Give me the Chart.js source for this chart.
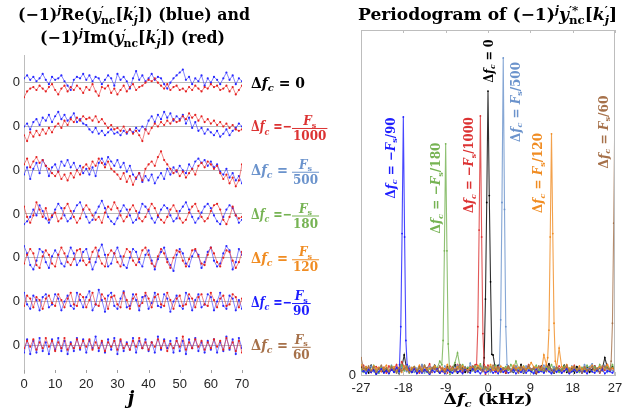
<!DOCTYPE html>
<html>
<head>
<meta charset="utf-8">
<script src="https://cdn.jsdelivr.net/npm/chart.js@4.4.1/dist/chart.umd.min.js"></script>
<style>
  html, body { margin: 0; padding: 0; background: #fff; }
  #wrap { position: relative; width: 632px; height: 410px; overflow: hidden; }
  canvas { position: absolute; top: 0; }
  #left { left: 0; }
  #right { left: 316px; }
</style>
</head>
<body>
<div id="wrap">
  <canvas id="left" width="340" height="410"></canvas>
  <canvas id="right" width="316" height="410"></canvas>
</div>
<script>
// ---- time-domain rows (tenths of a row unit), top row first ----
// Δfc = 0
const re1 = [3,5,2,4,1,3,6,2,-1,4, 2,3,5,1,-2,-5,2,4,3,6, 2,5,1,4,3,-1,2,5,3,-2, 6,2,4,1,-4,3,8,2,5,1,
             3,6,2,4,3,-1,-4,0,3,5, 7,9,2,4,-1,3,1,5,-2,3, 0,4,2,-1,3,7,2,5,-1,3, 1];
const im1 = [-10,-6,-4,-3,-5,-2,-4,-6,-3,-1, -5,-8,-4,-2,-6,-3,-5,-2,-4,-7, -3,-5,-1,-6,-9,-3,-4,-2,-7,-4,
             -8,-5,-2,-6,-3,-1,-5,-3,-2,0, 2,1,3,0,-2,-4,-1,-5,-3,-2, -5,-4,-6,-3,-5,-2,-4,-6,-3,-4,
             -1,-3,-2,-5,-4,-2,-6,-3,-8,-5, -2];
// Δfc = -Fs/1000
const re2 = [0,2,-2,3,5,1,6,4,8,3, 7,10,5,8,4,6,9,3,5,2, 1,-2,-4,-1,-5,-3,-6,-4,-2,-5, -4,-6,-3,-5,-2,-4,-1,-3,0,-2,
             4,7,3,8,5,10,6,9,4,7, 5,8,2,6,-1,3,-3,-1,-5,-2, -4,-6,-3,-7,-5,-2,-6,-3,-1,2, 0];
const im2 = [-6,-10,-4,-7,-3,-6,-2,-5,-1,-4, 0,2,-1,4,1,5,3,6,4,7, 5,6,4,7,3,5,2,-1,1,-2, -1,-3,0,-4,-2,-5,-3,-6,-10,-2,
             -5,-1,2,0,3,1,4,2,5,3, 4,7,5,9,6,8,4,7,3,5, 2,4,1,3,0,2,-1,1,-2,-3, -2];
// Δfc = Fs/500
const re3 = [-3,2,-6,1,5,-2,7,3,-4,2, 4,-1,6,3,7,2,5,0,3,-2, 1,-3,2,-4,5,8,4,9,6,3, 7,2,5,-1,3,-3,-6,-2,-8,-4,
             -7,-3,-9,-5,-2,-6,1,-3,2,-1, 3,0,-2,4,1,6,8,5,7,3, 6,2,4,-1,-3,1,-5,-2,-7,-4, -9];
const im3 = [4,8,2,6,9,5,7,3,1,-2, -4,-1,-6,-3,-7,-2,-5,0,-3,2, 4,1,6,3,8,5,2,6,1,-1, -3,-6,-2,-8,-4,-10,-5,-2,-7,1,
             4,6,3,9,13,7,4,1,-2,0, -4,-1,-5,-2,1,-3,3,5,2,6, 4,1,3,-2,-6,-3,-9,-5,-11,-7, 4];
// Δfc = -Fs/180
const re4 = [-7,-5,-2,3,-1,6,2,-3,-6,-2, 3,7,4,-1,-5,-3,2,6,8,3, -2,-6,-4,1,5,9,4,-2,-5,-7, -3,2,6,3,-1,-6,-4,1,7,5,
             2,-3,-6,-2,3,6,4,-1,-5,-3, 2,5,8,3,-2,-6,-3,1,5,7, 4,-1,-5,-7,-2,3,6,4,-1,-6, -4];
const im4 = [5,-2,-6,-1,8,3,-2,4,-4,-1, 1,-5,-3,4,7,2,-2,-6,-3,3, 6,3,-1,-4,-2,-6,1,5,3,8, 4,-1,-5,-2,3,6,2,-3,-5,-2,
             3,7,4,-1,-4,-6,-2,3,6,2, -3,-6,-4,1,5,7,2,-2,-5,-3, 2,6,7,3,-4,-7,-2,5,-1,-3, -2];
// Δfc = Fs/120
const re5 = [8,3,-5,-8,-2,6,4,-3,-7,1, 5,2,-4,-6,1,7,3,-5,-2,4, 6,-1,-8,-3,5,9,2,-6,-4,3, 7,1,-5,-7,0,6,4,-3,-6,2,
             5,-2,-8,-1,4,7,-1,-5,-9,2, 6,3,-4,-6,1,5,2,-7,-3,4, 7,-2,-6,-4,3,8,5,-8,-3,6, 2];
const im5 = [-4,2,6,3,-5,-7,1,5,2,-4, -6,2,7,3,-3,-5,-1,5,6,-2, -5,-3,4,7,1,-4,-6,2,5,3, -3,-6,1,6,4,-2,-5,-1,5,7,
             2,-4,-6,1,6,3,-3,-7,0,5, 4,-2,-6,-1,5,6,1,-4,-5,2, 7,3,-3,-6,0,5,4,-2,-7,-3, 4];
// Δfc = -Fs/90
const re6 = [6,-2,-5,4,1,-6,3,5,-4,-2, 5,2,-6,0,4,-3,-5,6,1,-4, 3,7,-6,-2,8,1,-7,4,6,-3, -5,2,7,-4,-3,5,1,-6,3,4,
             -5,-1,6,-3,-4,5,2,-7,0,4, -3,-5,6,2,-6,1,5,-4,-2,5, 3,-6,0,6,-3,-5,4,2,-6,1, -5];
const im6 = [-3,4,2,-4,3,1,-5,2,4,-1, -3,5,1,-4,2,6,-2,-3,5,3, -4,1,6,-2,-3,5,2,-5,3,4, -2,-4,6,1,-5,2,5,-3,-1,6,
             2,-4,3,5,-2,-3,6,1,-5,2, 4,-3,-2,5,2,-4,3,5,-2,-3, 6,1,-4,2,4,-3,-2,5,3,-4, 2];
// Δfc = Fs/60
const re7 = [-5,4,-6,3,-5,5,-4,2,-6,4, -3,5,-4,3,-6,2,-4,5,-3,4, -5,3,-2,6,-4,2,-5,4,-3,5, -6,3,-4,2,-3,5,-5,3,-2,4,
             -4,2,-5,6,-3,4,-2,3,-5,5, -4,3,-6,4,-2,5,-4,2,-5,3, -3,4,-5,2,-4,6,-3,4,-6,5, -2];
const im7 = [-2,3,-1,4,-3,2,-2,5,-1,3, -4,2,-2,5,-3,1,-2,4,-2,3, -1,4,-3,2,-2,3,-4,2,-1,3, -3,4,-2,1,-3,3,-1,5,-2,2,
             -3,2,-1,4,-2,3,-4,1,-2,3, -1,6,-3,2,-2,4,-1,3,-3,2, -2,4,-1,3,-3,5,-2,2,-4,3, -5];

// ---- periodogram: noise floor on the bin grid (units of 0.002), peak samples and centres (kHz) ----
const noiseDf0 = [12,5,9,3,14,7,2,10,6,4, 8,3,11,5,9,2,10,29,8,6, 4,9,3,12,7,5,10,2,8,14, 6,3,9,5,12,4,8,15,3,7,
                  10,4,9,6,12,9,11,8,8,15, 0,10,29,6,14,5,9,3,12,7, 4,10,6,15,3,8,12,5,9,2, 7,13,4,9,16,6,3,11,5,8,
                  14,4,7,10,3,12,6,9,5,11, 4,8,13,6,10,9,25,11,7,12, 5];
const noiseDfM1000 = [8,14,6,10,4,12,12,9,5,11, 3,13,7,9,15,4,19,12,6,10, 5,11,8,3,14,6,9,16,4,10, 7,12,5,9,3,13,8,6,15,10,
                  4,11,7,12,9,15,12,0,0,0, 14,6,10,4,12,7,9,3,11,6, 8,13,5,10,4,9,15,6,11,3, 7,12,5,14,8,4,10,6,13,9,
                  5,11,3,8,14,6,10,4,12,7, 9,5,13,8,3,11,7,15,6,10, 4];
const noiseDf500 = [6,11,4,9,13,5,8,3,12,7, 10,4,14,6,9,3,11,7,5,13, 8,4,10,6,15,3,9,12,5,8, 11,4,7,13,6,9,3,10,14,5,
                  8,12,4,17,7,10,5,13,6,9, 11,4,8,14,6,0,0,0,12,9, 5,12,7,10,4,13,6,9,3,11, 8,5,14,7,10,4,12,6,9,3,
                  11,7,5,13,8,4,10,6,15,9, 12,16,8,5,11,7,14,4,9,6, 10];
const noiseDfM180 = [9,4,12,7,5,14,8,3,11,6, 10,5,13,7,4,9,15,6,11,3, 8,12,5,10,6,14,4,9,7,13, 10,20,12,0,0,0,9,18,32,11,
                  15,8,11,10,6,13,9,16,7,11, 5,12,8,14,6,10,9,12,7,15, 9,20,10,6,13,8,11,4,9,14, 6,10,5,12,8,15,7,11,4,9,
                  13,6,10,5,12,8,4,11,7,14, 9,5,12,8,15,6,10,12,8,15, 6];
const noiseDf120 = [15,7,12,9,4,13,8,11,6,10, 14,5,9,12,7,10,4,13,8,6, 11,9,5,14,7,12,8,10,6,13, 9,4,11,7,15,6,10,8,12,5,
                  13,9,7,11,10,8,14,10,6,12, 9,15,7,11,5,13,10,8,12,6, 14,9,11,7,12,8,10,18,12,10, 12,6,29,15,0,0,0,10,39,12,
                  9,15,7,12,10,6,13,8,11,5, 10,14,7,9,12,6,11,15,8,10, 5];
const noiseDfM90 = [3,6,2,8,4,7,1,5,9,3, 6,2,8,4,11,5,0,0,0,7, 4,9,2,6,3,8,5,1,7,4, 9,3,6,2,8,5,3,7,4,6,
                  2,8,5,3,9,4,6,2,7,3, 5,8,3,6,2,9,4,7,3,5, 8,2,6,4,9,3,7,5,2,8, 4,6,3,9,5,2,7,4,8,3,
                  6,9,2,5,8,4,7,3,6,2, 9,5,3,7,4,8,2,6,5,3, 7];
const noiseDf60 = [25,10,8,13,6,11,4,9,14,7, 10,5,12,8,3,11,6,9,13,4, 8,12,6,10,5,14,7,3,11,9, 6,13,8,4,10,7,12,5,9,15,
                  7,11,4,9,13,6,10,8,5,12, 9,6,14,7,11,4,10,8,13,5, 11,7,3,12,9,6,14,8,10,4, 13,7,10,5,12,8,4,11,9,6,
                  10,14,5,8,12,6,9,3,11,7, 8,12,6,10,4,13,12,9,8,0, 0];

const peakDf0     = [0.05, 0.22, 0.50, 0.823, 0.52, 0.27, 0.06];
const peakDfM1000 = [0.03, 0.14, 0.42, 0.751, 0.40, 0.12, 0.03];
const peakDf500   = [0.03, 0.16, 0.50, 0.919, 0.48, 0.14, 0.03];
const peakDfM180  = [0.03, 0.10, 0.36, 0.670, 0.36, 0.09, 0.02];
const peakDf120   = [0.05, 0.13, 0.40, 0.699, 0.41, 0.15, 0.04];
const peakDfM90   = [0.03, 0.14, 0.41, 0.748, 0.40, 0.10, 0.03];
const peakDf60    = [0.04, 0.15, 0.44, 0.810, 0.44, 0.15, 0.04];
const peakOffsets = [-0.81, -0.54, -0.27, 0, 0.27, 0.54, 0.81];   // kHz around each centre
const peakCenters = [0, -1.62, 3.24, -9, 13.5, -18, 27];           // kHz
const xTicksKHz = [-27, -18, -9, 0, 9, 18, 27];

// row captions: sign and denominator of Fs
const rowSigns = ['', '−', '', '−', '', '−', ''];
const rowDens = ['', '1000', '500', '180', '120', '90', '60'];

// ---- styling / layout ----
const rowColors = ['#000000', '#dc3232', '#6b93cc', '#76b353', '#f08c22', '#1e1eff', '#a6714a'];
const SERIF = '"DejaVu Serif", "Liberation Serif", serif';
const TICK_FONT = { family: '"Liberation Sans", Arial, sans-serif', size: 13 };
const TICK_COLOR = '#262626';
const AXIS_GRAY = '#bdbdbd';
const ROW_STEP = 3;
const VALUE_SCALE = 0.1;
const NOISE_UNIT = 0.002;
const FREQ_STEP = 0.54;

function fontOf(kind, size) {
  const small = kind.startsWith('sub') || kind.startsWith('sup');
  const s = small ? Math.round(size * 0.68) : size;
  const it = kind === 'i' || kind === 'supi' || kind === 'subi';
  return (it ? 'italic ' : '') + 'bold ' + s + 'px ' + SERIF;
}

function partWidth(ctx, t, k, size) {
  if (k === 'stack') {
    ctx.font = fontOf('sup', size); const a = ctx.measureText(t[0]).width;
    ctx.font = fontOf(t[2] ? 'subi' : 'sub', size); const b = ctx.measureText(t[1]).width;
    return Math.max(a, b);
  }
  ctx.font = fontOf(k, size);
  return ctx.measureText(t).width;
}

function richWidth(ctx, parts, size) {
  return parts.reduce((w, [t, k]) => w + partWidth(ctx, t, k, size), 0);
}

// draws mixed roman/italic/sub/superscript text on a baseline, stretched by sx; returns the end x
function drawRich(ctx, parts, x, y, size, color, align, sx = 1) {
  const w = richWidth(ctx, parts, size) * sx;
  const x0 = align === 'center' ? x - w / 2 : align === 'right' ? x - w : x;
  ctx.save();
  ctx.fillStyle = color;
  ctx.textAlign = 'left';
  ctx.textBaseline = 'alphabetic';
  ctx.translate(x0, y);
  ctx.scale(sx, 1);
  let cx = 0;
  for (const [t, k] of parts) {
    const pw = partWidth(ctx, t, k, size);
    if (k === 'stack') {
      ctx.font = fontOf('sup', size); ctx.fillText(t[0], cx, -size * 0.38);
      ctx.font = fontOf(t[2] ? 'subi' : 'sub', size); ctx.fillText(t[1], cx, size * 0.22);
    } else {
      ctx.font = fontOf(k, size);
      const dy = k.startsWith('sup') ? -size * 0.38 : k.startsWith('sub') ? size * 0.22 : 0;
      ctx.fillText(t, cx, dy);
    }
    cx += pw;
  }
  ctx.restore();
  return x0 + w;
}

// same, but squeezed or stretched to a given overall width
function drawFit(ctx, parts, x, y, size, color, align, width) {
  return drawRich(ctx, parts, x, y, size, color, align, width / richWidth(ctx, parts, size));
}

function drawFrac(ctx, num, den, left, barY, size, color) {
  const wn = richWidth(ctx, num, size);
  ctx.font = fontOf('r', size);
  const wd = ctx.measureText(den).width;
  const w = Math.max(wn, wd) + 2;
  const cx = left + w / 2;
  drawRich(ctx, num, cx, barY - 3, size, color, 'center');
  drawRich(ctx, [[den, 'r']], cx, barY + 12, size, color, 'center');
  ctx.save(); ctx.fillStyle = color; ctx.fillRect(left, barY, w, 1); ctx.restore();
}

const dfc = () => [['Δ', 'r'], ['f', 'i'], ['c', 'subi']];
const yPrime = sub => [['y', 'i'], [['′', sub], 'stack'], ['[', 'r'], ['k', 'i'], [['′', 'j', true], 'stack']];

// ---- left panel: stacked Re / Im rows ----
const reRows = [re1, re2, re3, re4, re5, re6, re7];
const imRows = [im1, im2, im3, im4, im5, im6, im7];
const rowOffsets = reRows.map((_, r) => (reRows.length - 1 - r) * ROW_STEP);

const leftSets = [];
reRows.forEach((re, r) => {
  const off = rowOffsets[r];
  const common = { borderWidth: 0.9, pointRadius: 1.1, pointBorderWidth: 0, tension: 0 };
  leftSets.push(Object.assign({
    data: re.map((v, j) => ({ x: j, y: off + v * VALUE_SCALE })),
    borderColor: 'rgba(45,45,255,0.65)', pointBackgroundColor: '#2828ff', order: 2
  }, common));
  leftSets.push(Object.assign({
    data: imRows[r].map((v, j) => ({ x: j, y: off + v * VALUE_SCALE })),
    borderColor: 'rgba(235,45,45,0.65)', pointBackgroundColor: '#e42020', order: 1
  }, common));
});

const leftDecor = {
  id: 'leftDecor',
  afterDraw(chart) {
    const { ctx, chartArea: a, scales: { x, y } } = chart;
    ctx.save();
    ctx.strokeStyle = '#a0a0a0';
    ctx.lineWidth = 1;
    x.ticks.forEach(t => {
      const px = Math.round(x.getPixelForValue(t.value)) + 0.5;
      ctx.beginPath(); ctx.moveTo(px, a.bottom); ctx.lineTo(px, a.bottom - 3); ctx.stroke();
    });
    ctx.restore();

    rowOffsets.forEach((off, r) => {
      const cy = y.getPixelForValue(off);
      const col = rowColors[r];
      if (!rowDens[r]) {
        drawFit(ctx, dfc().concat([[' = 0', 'r']]), 251, cy + 5, 14, col, 'left', 54);
      } else {
        const neg = rowSigns[r] !== '';
        drawFit(ctx, dfc().concat([[neg ? ' =−' : ' =', 'r']]), 251, cy + 5, 14, col, 'left', neg ? 41 : 37);
        drawFrac(ctx, [['F', 'i'], ['s', 'sub']], rowDens[r], 292, cy + 1.5, 12, col);
      }
    });

    const t1 = [['(−1)', 'r'], ['j', 'supi'], ['Re(', 'r']].concat(yPrime('nc'), [[']) (blue) and', 'r']]);
    const t2 = [['(−1)', 'r'], ['j', 'supi'], ['Im(', 'r']].concat(yPrime('nc'), [[']) (red)', 'r']]);
    drawFit(ctx, t1, 134, 20, 16, '#000', 'center', 232);
    drawFit(ctx, t2, 132.5, 43, 16, '#000', 'center', 185);
    drawRich(ctx, [['j', 'i']], 131, 404, 18, '#000', 'center');
  }
};

new Chart(document.getElementById('left'), {
  type: 'line',
  data: { datasets: leftSets },
  options: {
    responsive: false, animation: false, devicePixelRatio: 1,
    layout: { padding: { top: 55, right: 98, left: 0, bottom: 0 } },
    plugins: { legend: { display: false }, tooltip: { enabled: false } },
    scales: {
      x: {
        type: 'linear', min: 0, max: 70,
        afterFit: s => { s.height = 37; },
        ticks: { stepSize: 10, font: TICK_FONT, color: TICK_COLOR, padding: 4, maxRotation: 0 },
        grid: { display: false, drawTicks: false },
        border: { display: false }
      },
      y: {
        type: 'linear', min: -1.9, max: 6 * ROW_STEP + 1.9,
        afterFit: s => { s.width = 24; },
        afterBuildTicks: s => { s.ticks = rowOffsets.map(v => ({ value: v })); },
        ticks: { callback: () => '0', font: TICK_FONT, color: TICK_COLOR, padding: 4 },
        grid: { color: '#bababa', drawTicks: false },
        border: { color: AXIS_GRAY }
      }
    }
  },
  plugins: [leftDecor]
});

// ---- right panel: periodograms ----
const noiseRows = [noiseDf0, noiseDfM1000, noiseDf500, noiseDfM180, noiseDf120, noiseDfM90, noiseDf60];
const peakRows = [peakDf0, peakDfM1000, peakDf500, peakDfM180, peakDf120, peakDfM90, peakDf60];

function periodogramPoints(k) {
  const pts = [];
  noiseRows[k].forEach((v, i) => {
    const f = -27 + i * FREQ_STEP;
    if (Math.abs(f - peakCenters[k]) > 0.8) pts.push({ x: f, y: v * NOISE_UNIT });
  });
  peakOffsets.forEach((o, i) => pts.push({ x: peakCenters[k] + o, y: peakRows[k][i] }));
  return pts.sort((p, q) => p.x - q.x);
}

const rightSets = noiseRows.map((_, k) => ({
  data: periodogramPoints(k),
  borderColor: rowColors[k] + 'd0',
  pointBackgroundColor: rowColors[k],
  borderWidth: 1.1, pointRadius: 0.9, pointBorderWidth: 0, tension: 0,
  order: noiseRows.length - 1 - k
}));

const pgLabelDx = [0, -12, 12, -10, -14, -13, -12];
const pgLabelY = [61, 165, 102, 188, 173, 158, 132];
const pgLabelLen = [43, 96, 80, 91, 80, 81, 73];

const rightDecor = {
  id: 'rightDecor',
  afterDraw(chart) {
    const { ctx, chartArea: a, scales: { x } } = chart;
    ctx.save();
    ctx.strokeStyle = AXIS_GRAY;
    ctx.lineWidth = 1;
    ctx.beginPath();
    ctx.moveTo(a.left, Math.round(a.top) + 0.5); ctx.lineTo(a.right, Math.round(a.top) + 0.5);
    ctx.moveTo(Math.round(a.right) - 0.5, a.top); ctx.lineTo(Math.round(a.right) - 0.5, a.bottom);
    xTicksKHz.forEach(v => {
      const px = Math.round(x.getPixelForValue(v)) + 0.5;
      ctx.moveTo(px, a.top); ctx.lineTo(px, a.top + 3);
      ctx.moveTo(px, a.bottom); ctx.lineTo(px, a.bottom - 3);
    });
    ctx.stroke();
    ctx.restore();

    peakCenters.forEach((c, k) => {
      const px = x.getPixelForValue(c) + pgLabelDx[k];
      const parts = dfc();
      if (rowDens[k]) parts.push([' = ' + rowSigns[k], 'r'], ['F', 'i'], ['s', 'sub'], ['/' + rowDens[k], 'r']);
      else parts.push([' = 0', 'r']);
      ctx.save();
      ctx.translate(px, pgLabelY[k]);
      ctx.rotate(-Math.PI / 2);
      drawFit(ctx, parts, 0, 4.5, 12, rowColors[k], 'center', pgLabelLen[k]);
      ctx.restore();
    });

    const title = [['Periodogram of (−1)', 'r'], ['j', 'supi'], ['y', 'i'], [['′*', 'nc'], 'stack'],
                   ['[', 'r'], ['k', 'i'], [['′', 'j', true], 'stack'], [']', 'r']];
    drawFit(ctx, title, 171.5, 20, 16, '#000', 'center', 259);
    drawFit(ctx, dfc().concat([[' (kHz)', 'r']]), 172, 404, 15, '#000', 'center', 89);
  }
};

new Chart(document.getElementById('right'), {
  type: 'line',
  data: { datasets: rightSets },
  options: {
    responsive: false, animation: false, devicePixelRatio: 1,
    layout: { padding: { top: 30, right: 17, left: 0, bottom: 0 } },
    plugins: { legend: { display: false }, tooltip: { enabled: false } },
    scales: {
      x: {
        type: 'linear', min: -27, max: 27,
        afterFit: s => { s.height = 35; },
        afterBuildTicks: s => { s.ticks = xTicksKHz.map(v => ({ value: v })); },
        ticks: { font: TICK_FONT, color: TICK_COLOR, padding: 6, maxRotation: 0 },
        grid: { display: false, drawTicks: false },
        border: { color: AXIS_GRAY }
      },
      y: {
        type: 'linear', min: 0, max: 1,
        afterFit: s => { s.width = 45; },
        afterBuildTicks: s => { s.ticks = [{ value: 0 }]; },
        ticks: { font: TICK_FONT, color: TICK_COLOR, padding: 5 },
        grid: { display: false, drawTicks: false },
        border: { color: AXIS_GRAY }
      }
    }
  },
  plugins: [rightDecor]
});
</script>
</body>
</html>
